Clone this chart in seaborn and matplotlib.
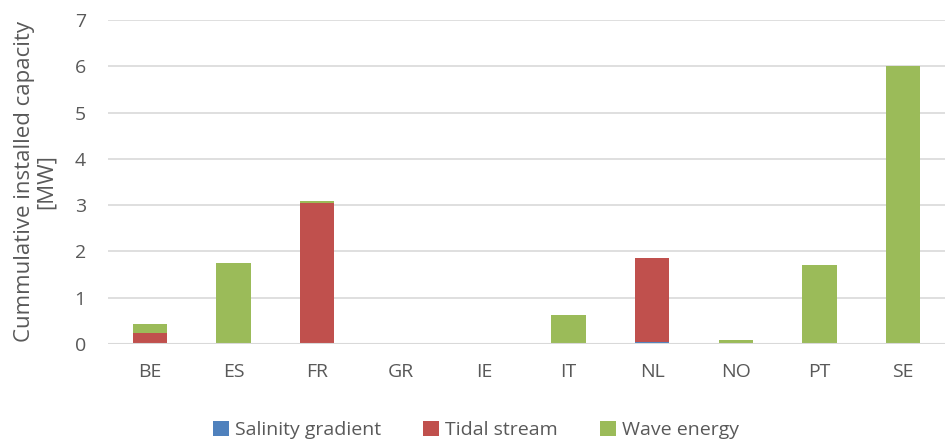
import matplotlib
matplotlib.use("Agg")
import matplotlib.pyplot as plt
import seaborn as sns
import pandas as pd
import numpy as np
from matplotlib.patches import Patch

countries = ["BE", "ES", "FR", "GR", "IE", "IT", "NL", "NO", "PT", "SE"]
salinity = [0.0, 0.0, 0.0, 0.0, 0.0, 0.0, 0.05, 0.0, 0.0, 0.0]
tidal = [0.24, 0.0, 3.05, 0.0, 0.0, 0.03, 1.80, 0.0, 0.0, 0.0]
wave = [0.20, 1.75, 0.05, 0.0, 0.0, 0.59, 0.0, 0.09, 1.70, 6.0]

series_names = ["Salinity gradient", "Tidal stream", "Wave energy"]
colors = ["#4f81bd", "#c0504d", "#9bbb59"]
text_color = "#595959"

sns.set_theme(style="white")
plt.rcParams["font.family"] = ["Open Sans", "DejaVu Sans"]

df = pd.DataFrame({"country": countries, "salinity": salinity,
                   "tidal": tidal, "wave": wave})
df["c1"] = df["salinity"]
df["c2"] = df["salinity"] + df["tidal"]
df["c3"] = df["c2"] + df["wave"]

fig = plt.figure(figsize=(9.52, 4.42), dpi=100)
ax = fig.add_axes([108 / 952, 1 - 344 / 442, (945 - 108) / 952, (344 - 20) / 442])

for col, colr in zip(["c3", "c2", "c1"], colors[::-1]):
    sns.barplot(data=df, x="country", y=col, color=colr, width=0.41,
                saturation=1, ax=ax, errorbar=None, edgecolor="none", zorder=3)

ax.set_ylim(0, 7)
ax.set_yticks(range(0, 8))
ax.grid(axis="y", color="#d9d9d9", linewidth=1.2, zorder=0)
ax.grid(axis="x", visible=False)
for s in ax.spines.values():
    s.set_visible(False)
ax.axhline(0, color="#d9d9d9", linewidth=1.5, zorder=4)
ax.tick_params(axis="both", length=0, labelsize=14, colors=text_color)
ax.tick_params(axis="x", pad=14)
ax.tick_params(axis="y", pad=16)
ax.set_xlabel("")
ax.set_ylabel("Cummulative installed capacity\n[MW]", fontsize=16,
              color=text_color, labelpad=13, linespacing=1.0)

handles = [Patch(facecolor=c, edgecolor="none") for c in colors]
fig.legend(handles, series_names, loc="center", bbox_to_anchor=(0.5, 1 - 430 / 442),
           ncol=3, frameon=False, fontsize=14, labelcolor=text_color,
           handlelength=0.8, handleheight=0.8, handletextpad=0.3, columnspacing=2.2)

fig.savefig("out.png", dpi=100)
